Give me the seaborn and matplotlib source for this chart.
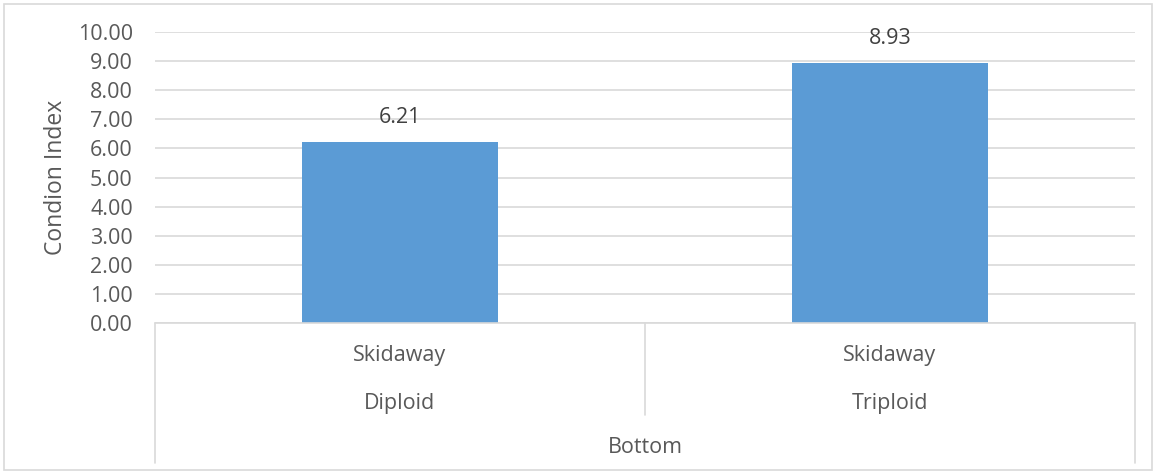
import matplotlib
matplotlib.use("Agg")
import matplotlib.pyplot as plt
from matplotlib.lines import Line2D
from matplotlib.patches import Rectangle
import seaborn as sns
import pandas as pd

# Data
sites = ["Skidaway", "Skidaway"]
ploidy = ["Diploid", "Triploid"]
placement = ["Bottom"]
condition_index = [6.21, 8.93]
y_ticks = [0, 1, 2, 3, 4, 5, 6, 7, 8, 9, 10]

df = pd.DataFrame({"group": ploidy, "value": condition_index})

sns.set_theme(style="white")
plt.rcParams["font.family"] = ["Open Sans", "DejaVu Sans"]

W, H = 1156, 473
fig = plt.figure(figsize=(W / 100, H / 100), dpi=100)
fig.patch.set_facecolor("white")

FS = 15.5
TXT = "#595959"

# outer chart border
fig.patches.append(Rectangle((4 / W, 3 / H), (W - 8) / W, (H - 7) / H,
                             transform=fig.transFigure, fill=False,
                             edgecolor="#D9D9D9", linewidth=1.2))

x0, x1 = 155, 1135
y_top, y_bot = 32, 323
ax = fig.add_axes([x0 / W, 1 - y_bot / H, (x1 - x0) / W, (y_bot - y_top) / H])

bar_color = "#5B9BD5"
sns.barplot(data=df, x="group", y="value", color=bar_color, width=0.4,
            saturation=1, ax=ax, edgecolor="none")

ax.set_ylim(0, 10)
ax.set_xlim(-0.5, 1.5)
ax.set_yticks(y_ticks)
ax.set_yticklabels([f"{v:.2f}" for v in y_ticks], color=TXT, fontsize=FS)
ax.tick_params(axis="y", length=0, pad=16)
ax.set_xticks([])
ax.set_xlabel("")
ax.set_ylabel("Condion Index", color=TXT, fontsize=16.5)
ax.yaxis.set_label_coords((68 - x0) / (x1 - x0), 0.5)
ax.yaxis.grid(True, color="#D9D9D9", linewidth=1.2)
ax.set_axisbelow(True)
for s in ax.spines.values():
    s.set_visible(False)

# value labels
for i, v in enumerate(condition_index):
    ax.annotate(f"{v:.2f}", (i, v), xytext=(0, 17.5), textcoords="offset points",
                ha="center", va="center", color="#404040", fontsize=FS)

# multi-level category axis
gc = "#D9D9D9"
def fy(py):
    return 1 - py / H
def fx(px):
    return px / W

lines = [
    ((x0, x1), (y_bot, y_bot)),
    ((x0, x0), (y_bot, 463)),
    ((x1, x1), (y_bot, 463)),
    (((x0 + x1) / 2, (x0 + x1) / 2), (y_bot, 415)),
]
for xs, ys in lines:
    fig.add_artist(Line2D([fx(x) for x in xs], [fy(y) for y in ys],
                          color=gc, linewidth=1.2))

cat_w = (x1 - x0) / len(ploidy)
for i, (s, p) in enumerate(zip(sites, ploidy)):
    cx = x0 + cat_w * (i + 0.5)
    fig.text(fx(cx), fy(355), s, ha="center", va="center", color=TXT, fontsize=FS)
    fig.text(fx(cx), fy(403), p, ha="center", va="center", color=TXT, fontsize=FS)
fig.text(fx((x0 + x1) / 2), fy(447), placement[0], ha="center", va="center",
         color=TXT, fontsize=FS)

fig.savefig("out.png", dpi=100, facecolor="white")
